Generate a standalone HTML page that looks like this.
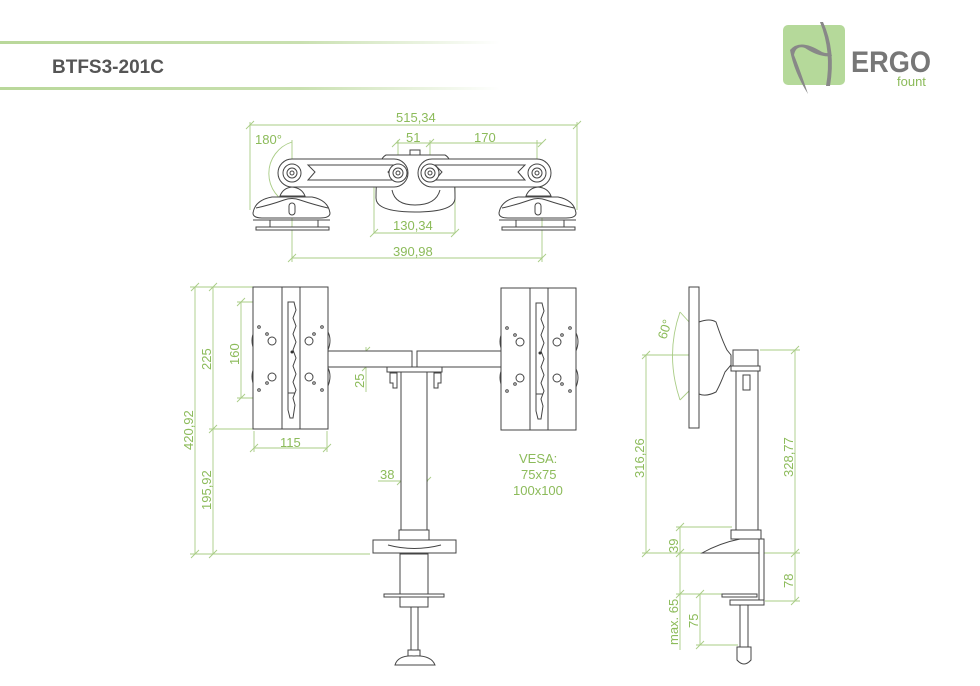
<!DOCTYPE html>
<html><head><meta charset="utf-8"><style>
html,body{margin:0;padding:0;background:#fff;}
svg{display:block;}
text{font-family:"Liberation Sans",sans-serif;}
.g{fill:#8cbb5a;font-size:13px;}
.d{stroke:#a9cc85;stroke-width:0.9;fill:none;}
.l{stroke:#444;stroke-width:1;fill:#fff;}
.n{stroke:#444;stroke-width:1;fill:none;}
</style></head><body>
<svg width="980" height="686" viewBox="0 0 980 686" xmlns="http://www.w3.org/2000/svg">
<defs>
<linearGradient id="fade" x1="0" x2="1" y1="0" y2="0">
<stop offset="0" stop-color="#b9d89a"/><stop offset="0.6" stop-color="#c9e0b0"/><stop offset="1" stop-color="#fff"/>
</linearGradient>
</defs>
<!-- header -->
<rect x="0" y="41" width="500" height="3" fill="url(#fade)"/>
<rect x="0" y="87" width="500" height="3" fill="url(#fade)"/>
<text x="52" y="73" font-size="19" font-weight="bold" fill="#555">BTFS3-201C</text>
<!-- logo -->
<rect x="783" y="25" width="62" height="60" rx="5" fill="#b5d99a"/>
<path d="M790 50 Q800 38 822 52 Q830 55 830 50 L832 56 Q820 58 805 48 Q796 45 794 55 Q800 70 808 94 Q794 72 790 50Z" fill="#888"/>
<path d="M823 22 Q836 50 830 86 L826 86 Q832 52 820 22Z" fill="#888"/>
<text x="851" y="72" font-size="30" fill="#777" font-weight="bold" textLength="80" lengthAdjust="spacingAndGlyphs">ERGO</text>
<text x="897" y="86" font-size="13" fill="#8cbb5a">fount</text>

<!-- TOP VIEW -->
<g class="d">
<line x1="250" y1="125" x2="577" y2="125"/><line x1="246" y1="129" x2="254" y2="121"/><line x1="573" y1="129" x2="581" y2="121"/>
<line x1="250" y1="122" x2="250" y2="210"/><line x1="577" y1="122" x2="577" y2="210"/>
<line x1="396" y1="143" x2="542" y2="143"/><line x1="392" y1="147" x2="400" y2="139"/><line x1="426" y1="147" x2="434" y2="139"/><line x1="538" y1="147" x2="546" y2="139"/>
<line x1="398" y1="140" x2="398" y2="172"/><line x1="430" y1="140" x2="430" y2="172"/><line x1="537" y1="140" x2="537" y2="172"/>
<line x1="292" y1="140" x2="292" y2="262"/><line x1="542" y1="172" x2="542" y2="262"/>
<path d="M292 142 A33 33 0 0 0 292 205"/>
<line x1="374" y1="160" x2="374" y2="233"/><line x1="455" y1="160" x2="455" y2="233"/>
<line x1="374" y1="233" x2="455" y2="233"/><line x1="370" y1="237" x2="378" y2="229"/><line x1="451" y1="237" x2="459" y2="229"/>
<line x1="292" y1="258" x2="542" y2="258"/><line x1="288" y1="262" x2="296" y2="254"/><line x1="538" y1="262" x2="546" y2="254"/>
</g>
<text class="g" x="396" y="122">515,34</text>
<text class="g" x="255" y="144">180°</text>
<text class="g" x="406" y="142">51</text>
<text class="g" x="474" y="142">170</text>
<text class="g" x="393" y="230">130,34</text>
<text class="g" x="393" y="256">390,98</text>
<!-- center block -->
<path class="l" d="M376 198 Q376 160 386 155 L445 155 Q455 160 455 198 Q455 212 415 212 Q376 212 376 198Z"/>
<path class="n" d="M392 190 Q395 205 415 205 Q436 205 440 190"/>
<rect class="l" x="410" y="150" width="10" height="5"/>
<!-- arms -->
<rect class="l" x="278" y="159" width="130" height="28" rx="14"/>
<rect class="l" x="418" y="159" width="133" height="28" rx="14"/>
<path class="n" d="M308 165 L395 165 L388 172 L395 180 L308 180 L315 172Z"/>
<path class="n" d="M435 165 L525 165 L518 172 L525 180 L435 180 L442 172Z"/>
<g class="l"><circle cx="292" cy="173" r="9"/><circle cx="398" cy="173" r="9"/><circle cx="430" cy="173" r="9"/><circle cx="537" cy="173" r="9"/></g>
<g class="n"><circle cx="292" cy="173" r="5"/><circle cx="398" cy="173" r="5"/><circle cx="430" cy="173" r="5"/><circle cx="537" cy="173" r="5"/>
<circle cx="292" cy="173" r="2"/><circle cx="398" cy="173" r="2"/><circle cx="430" cy="173" r="2"/><circle cx="537" cy="173" r="2"/></g>
<!-- bases -->
<g id="base">
<path class="l" d="M280 196 Q283 188 292 187 Q302 188 305 196Z"/>
<path class="l" d="M253 213 Q255 200 272 197 L312 197 Q328 200 330 213 Q330 218 320 218 L262 218 Q253 218 253 213Z"/>
<path class="n" d="M256 208 Q270 205 284 200 Q292 197 300 200 Q315 205 328 208"/>
<rect class="l" x="289" y="203" width="6" height="12" rx="3"/>
<line class="n" x1="253" y1="220" x2="330" y2="220"/>
<path class="n" d="M270 220 L270 227 M318 220 L318 227"/>
<rect class="l" x="256" y="227" width="73" height="3"/>
</g>
<use href="#base" transform="translate(246,0)"/>

<!-- FRONT VIEW -->
<g class="d">
<line x1="195" y1="287" x2="195" y2="554"/><line x1="191" y1="291" x2="199" y2="283"/><line x1="191" y1="558" x2="199" y2="550"/>
<line x1="213" y1="287" x2="213" y2="554"/><line x1="209" y1="291" x2="217" y2="283"/><line x1="209" y1="433" x2="217" y2="425"/><line x1="209" y1="558" x2="217" y2="550"/>
<line x1="190" y1="287" x2="253" y2="287"/><line x1="209" y1="429" x2="253" y2="429"/><line x1="190" y1="554" x2="370" y2="554"/>
<line x1="241" y1="302" x2="241" y2="398"/><line x1="237" y1="306" x2="245" y2="298"/><line x1="237" y1="402" x2="245" y2="394"/>
<line x1="237" y1="302" x2="284" y2="302"/><line x1="237" y1="398" x2="284" y2="398"/>
<line x1="254" y1="431" x2="254" y2="452"/><line x1="327" y1="431" x2="327" y2="452"/>
<line x1="254" y1="448" x2="327" y2="448"/><line x1="250" y1="452" x2="258" y2="444"/><line x1="323" y1="452" x2="331" y2="444"/>
<line x1="366" y1="347" x2="366" y2="392"/><line x1="362" y1="355" x2="370" y2="347"/><line x1="362" y1="371" x2="370" y2="363"/>
<line x1="378" y1="481" x2="428" y2="481"/><line x1="397" y1="485" x2="405" y2="477"/><line x1="423" y1="485" x2="431" y2="477"/>
</g>
<text class="g" transform="translate(193,450) rotate(-90)">420,92</text>
<text class="g" transform="translate(211,370) rotate(-90)">225</text>
<text class="g" transform="translate(211,510) rotate(-90)">195,92</text>
<text class="g" transform="translate(239,365) rotate(-90)">160</text>
<text class="g" transform="translate(364,388) rotate(-90)">25</text>
<text class="g" x="280" y="447">115</text>
<text class="g" x="380" y="479">38</text>
<text class="g" x="519" y="463">VESA:</text>
<text class="g" x="521" y="479">75x75</text>
<text class="g" x="513" y="495">100x100</text>
<!-- arms -->
<rect class="l" x="327" y="351" width="85" height="16"/>
<rect class="l" x="417" y="351" width="84" height="16"/>
<!-- panels -->
<g id="panel">
<path class="n" d="M254 332 Q250 340 254 350 M254 368 Q250 376 254 386 M328 332 Q332 340 328 350 M328 368 Q332 376 328 386" stroke-width="2"/>
<rect class="l" x="253" y="287" width="75" height="142"/>
<line class="n" x1="282" y1="287" x2="282" y2="429"/><line class="n" x1="300" y1="287" x2="300" y2="429"/>
<path class="n" d="M288 302 L294 302 L296 310 L293 318 L296 326 L293 334 L296 342 L293 350 L296 358 L293 366 L296 374 L293 382 L296 390 L293 398 L295 405 L293 418 L290 418 L288 410Z"/>
<line class="n" x1="288" y1="393" x2="295" y2="393"/>
<g class="n"><circle cx="272" cy="341" r="4"/><circle cx="309" cy="341" r="4"/><circle cx="272" cy="377" r="4"/><circle cx="309" cy="377" r="4"/>
<circle cx="259" cy="327" r="1.3"/><circle cx="322" cy="327" r="1.3"/><circle cx="259" cy="390" r="1.3"/><circle cx="322" cy="390" r="1.3"/>
<circle cx="267" cy="334" r="1.3"/><circle cx="314" cy="334" r="1.3"/><circle cx="267" cy="383" r="1.3"/><circle cx="314" cy="383" r="1.3"/></g>
<circle cx="292" cy="352" r="1.5" fill="#333"/>
</g>
<use href="#panel" transform="translate(248,1)"/>
<!-- pole -->
<rect class="l" x="387" y="367" width="55" height="5"/>
<path class="l" d="M390 373 L397 373 L397 388 L393 388 L393 383 L390 383Z"/>
<path class="l" d="M434 373 L441 373 L441 383 L438 383 L438 388 L434 388Z"/>
<rect class="l" x="401" y="372" width="26" height="158"/>
<rect class="l" x="399" y="530" width="30" height="10"/>
<path class="l" d="M373 540 L456 540 L456 553 L373 553Z"/>
<path class="n" d="M388 545 Q414 552 441 545"/>
<rect class="l" x="400" y="554" width="28" height="40"/>
<rect class="l" x="384" y="594" width="60" height="3"/>
<rect class="l" x="400" y="597" width="28" height="10"/>
<rect class="l" x="411" y="607" width="7" height="45"/>
<rect class="l" x="408" y="650" width="12" height="8"/>
<path class="l" d="M395 665 Q398 655 414 656 Q431 655 435 665Z"/>

<!-- SIDE VIEW -->
<g class="d">
<line x1="646" y1="355" x2="646" y2="553"/><line x1="642" y1="359" x2="650" y2="351"/><line x1="642" y1="557" x2="650" y2="549"/>
<line x1="642" y1="355" x2="690" y2="355"/>
<line x1="642" y1="553" x2="800" y2="553"/>
<line x1="795" y1="350" x2="795" y2="601"/><line x1="791" y1="354" x2="799" y2="346"/><line x1="791" y1="557" x2="799" y2="549"/><line x1="791" y1="605" x2="799" y2="597"/>
<line x1="760" y1="350" x2="800" y2="350"/><line x1="765" y1="601" x2="800" y2="601"/>
<line x1="680" y1="527" x2="680" y2="650"/><line x1="676" y1="531" x2="684" y2="523"/><line x1="676" y1="557" x2="684" y2="549"/><line x1="676" y1="598" x2="684" y2="590"/>
<line x1="676" y1="527" x2="732" y2="527"/><line x1="676" y1="594" x2="722" y2="594"/>
<line x1="700" y1="594" x2="700" y2="645"/><line x1="696" y1="598" x2="704" y2="590"/><line x1="696" y1="649" x2="704" y2="641"/>
<line x1="696" y1="645" x2="738" y2="645"/>
<path d="M680 312 Q665 355 680 400"/>
<line x1="680" y1="312" x2="722" y2="358"/><line x1="680" y1="400" x2="722" y2="358"/>
</g>
<text class="g" transform="translate(644,478) rotate(-90)">316,26</text>
<text class="g" transform="translate(793,477) rotate(-90)">328,77</text>
<text class="g" transform="translate(793,588) rotate(-90)">78</text>
<text class="g" transform="translate(678,553) rotate(-90)">39</text>
<text class="g" transform="translate(678,645) rotate(-90)">max. 65</text>
<text class="g" transform="translate(698,628) rotate(-90)">75</text>
<text class="g" transform="translate(666,340) rotate(-72)">60°</text>
<rect class="l" x="689" y="287" width="10" height="141"/>
<path class="l" d="M699 322 Q710 318 716 322 Q722 340 727 350 L731 355 L731 365 L725 372 Q720 385 716 392 Q706 397 699 394Z"/>
<rect class="l" x="733" y="350" width="25" height="16"/>
<rect class="l" x="731" y="366" width="29" height="5"/>
<rect class="l" x="736" y="371" width="22" height="159"/>
<path class="l" d="M743 375 L750 375 L750 390 L743 390Z"/>
<rect class="l" x="731" y="530" width="30" height="9"/>
<path class="l" d="M702 553 Q720 543 740 539 L764 539 L764 553Z"/>
<rect class="l" x="759" y="539" width="5" height="66"/>
<rect class="l" x="730" y="600" width="34" height="5"/>
<rect class="l" x="722" y="594" width="35" height="3"/>
<rect class="l" x="740" y="605" width="8" height="42"/>
<path class="l" d="M737 647 L751 647 L751 660 Q744 668 737 660Z"/>
</svg>
</body></html>
